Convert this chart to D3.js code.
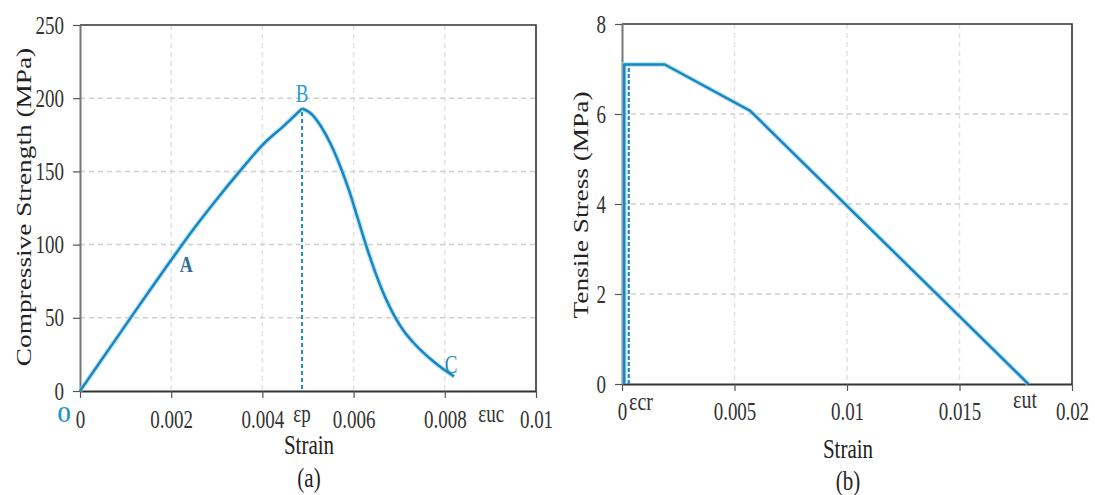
<!DOCTYPE html>
<html><head><meta charset="utf-8">
<script src="https://cdn.jsdelivr.net/npm/d3@7"></script>
<style>
body{margin:0;background:#fff;}
svg{display:block;}
text{font-family:"Liberation Serif","Times New Roman",serif;}
</style>
</head><body>
<svg id="c" width="1095" height="495"></svg>
<script>
// ---------- data ----------
const compStrain = [0, 0.0005, 0.001, 0.0015, 0.002, 0.0025, 0.003, 0.0035, 0.004, 0.0045, 0.00487,
                    0.0051, 0.0053, 0.0055, 0.0057, 0.0059, 0.0061, 0.0063, 0.0065, 0.0067, 0.0069,
                    0.0071, 0.0073, 0.0075, 0.0077, 0.0079, 0.0082];
const compStress = [0, 22.5, 45, 67.5, 89.5, 111, 131, 150, 168, 182, 193,
                    188.5, 180, 168.5, 154, 137, 117, 97, 79, 63.5, 51,
                    41, 33.5, 27, 21.5, 16.5, 10];
const compTicksX = [0, 0.002, 0.004, 0.006, 0.008, 0.01];
const compTickLabelsX = ["0", "0.002", "0.004", "0.006", "0.008", "0.01"];
const compTicksY = [0, 50, 100, 150, 200, 250];

const tensStrain = [0.0001, 0.0001, 0.0019, 0.0057, 0.01806];
const tensStress = [0, 7.1, 7.1, 6.07, 0];
const tensTicksX = [0, 0.005, 0.01, 0.015, 0.02];
const tensTickLabelsX = ["0", "0.005", "0.01", "0.015", "0.02"];
const tensTicksY = [0, 2, 4, 6, 8];

const epsP = 0.00487;   // strain at peak (dashed line, panel a)
const epsCr = 0.0003;   // cracking strain (dashed line, panel b)

// ---------- drawing ----------
const svg = d3.select("#c");
const SY = 1.3; // vertical text stretch of the original picture
const lineColor = "#1a86bf";

function txt(g, s, x, y, size, opts = {}) {
  const t = g.append("text")
    .attr("transform", `translate(${x},${y}) scale(1,${SY})` + (opts.rotate ? " rotate(-90)" : ""))
    .attr("text-anchor", opts.anchor || "middle")
    .attr("font-size", size)
    .attr("fill", opts.fill || "#222")
    .attr("font-weight", opts.bold ? "bold" : "normal")
    .text(s);
  if (opts.dy) t.attr("dy", opts.dy);
  return t;
}

function panel(cfg) {
  const g = svg.append("g");
  const x = d3.scaleLinear().domain(cfg.xDomain).range([cfg.left, cfg.right]);
  const y = d3.scaleLinear().domain(cfg.yDomain).range([cfg.bottom, cfg.top]);

  // grid
  g.append("g").selectAll("line").data(cfg.ticksX.slice(1, -1)).join("line")
    .attr("x1", d => x(d)).attr("x2", d => x(d)).attr("y1", cfg.top).attr("y2", cfg.bottom)
    .attr("stroke", "#e2e2e2").attr("stroke-width", 1.5).attr("stroke-dasharray", "5,4");
  g.append("g").selectAll("line").data(cfg.ticksY.slice(1, -1)).join("line")
    .attr("y1", d => y(d)).attr("y2", d => y(d)).attr("x1", cfg.left).attr("x2", cfg.right)
    .attr("stroke", "#cfcfcf").attr("stroke-width", 1.5).attr("stroke-dasharray", "5,4");

  // frame (top, right)
  g.append("path")
    .attr("d", `M${cfg.left},${cfg.top}H${cfg.right}V${cfg.bottom}`)
    .attr("fill", "none").attr("stroke", "#333").attr("stroke-width", 1.6);

  // axes
  const xa = g.append("g").attr("transform", `translate(0,${cfg.bottom})`)
    .call(d3.axisBottom(x).tickValues(cfg.ticksX).tickFormat((d, i) => cfg.labelsX[i])
      .tickSizeInner(7).tickSizeOuter(0));
  xa.select(".domain").attr("stroke", "#333").attr("stroke-width", 2);
  xa.selectAll(".tick line").attr("stroke", "#555").attr("stroke-width", 1.2);
  xa.selectAll(".tick text").attr("y", null).attr("dy", null)
    .attr("transform", `translate(0,${cfg.xLabelOff}) scale(1,${SY})`)
    .attr("font-size", 19).attr("fill", "#333")
    .attr("font-family", '"Liberation Serif","Times New Roman",serif');

  const ya = g.append("g").attr("transform", `translate(${cfg.left},0)`)
    .call(d3.axisLeft(y).tickValues(cfg.ticksY).tickSizeInner(7).tickSizeOuter(0));
  ya.select(".domain").attr("stroke", "#777").attr("stroke-width", 2);
  ya.selectAll(".tick line").attr("stroke", "#555").attr("stroke-width", 1.2);
  ya.selectAll(".tick text").attr("x", null).attr("dy", null)
    .attr("transform", `translate(-16,8) scale(1,${SY})`)
    .attr("text-anchor", "end")
    .attr("font-size", 19).attr("fill", "#333")
    .attr("font-family", '"Liberation Serif","Times New Roman",serif');

  // titles
  txt(g, "Strain", (cfg.left + cfg.right) / 2 + cfg.titleDx, cfg.titleY, 21);
  txt(g, cfg.sub, (cfg.left + cfg.right) / 2 + cfg.titleDx, cfg.subY, 21);
  txt(g, cfg.yTitle, cfg.yTitleX, cfg.yTitleY, 21, { rotate: true, dy: "0.35em" });

  return { g, x, y };
}

// ---- panel (a) ----
const A = panel({
  left: 80, right: 536, top: 25, bottom: 391,
  xDomain: [0, 0.01], yDomain: [0, 250],
  ticksX: compTicksX, labelsX: compTickLabelsX, ticksY: compTicksY,
  xLabelOff: 37, titleDx: 1, titleY: 454, sub: "(a)", subY: 487,
  yTitle: "Compressive Strength (MPa)", yTitleX: 24, yTitleY: 207
});
{
  const { g, x, y } = A;
  const pts = compStrain.map((s, i) => [s, compStress[i]]);
  const pk = d3.maxIndex(compStress);
  const line = d3.line().x(d => x(d[0])).y(d => y(d[1])).curve(d3.curveMonotoneX);
  const parts = [pts.slice(0, pk + 1), pts.slice(pk)];
  // dashed peak line
  g.append("line").attr("x1", x(epsP)).attr("x2", x(epsP)).attr("y1", y(0) - 2).attr("y2", y(compStress[pk]))
    .attr("stroke", "#2a86c0").attr("stroke-width", 2).attr("stroke-dasharray", "4,3");
  parts.forEach(p => {
    g.append("path").attr("d", line(p)).attr("fill", "none")
      .attr("stroke", "#8fd4f2").attr("stroke-width", 4.8).attr("stroke-opacity", 0.6);
    g.append("path").attr("d", line(p)).attr("fill", "none")
      .attr("stroke", lineColor).attr("stroke-width", 2.5).attr("stroke-linejoin", "round");
  });
  txt(g, "A", x(0.00233), y(81.3), 18, { bold: true, fill: "#2c6d9c" });
  txt(g, "B", x(epsP), y(compStress[pk]) - 6, 19, { fill: "#2a9bd4" });
  txt(g, "C", x(0.00814), y(12.3), 19, { fill: "#2f86b8" });
  txt(g, "O", x(0) - 16, 422, 17, { bold: true, fill: "#1f93cf" });
  txt(g, "εp", x(epsP), 422, 19, { fill: "#333" });
  txt(g, "εuc", x(0.00902), 422, 19, { fill: "#333" });
}

// ---- panel (b) ----
const B = panel({
  left: 622, right: 1072, top: 24, bottom: 384,
  xDomain: [0, 0.02], yDomain: [0, 8],
  ticksX: tensTicksX, labelsX: tensTickLabelsX, ticksY: tensTicksY,
  xLabelOff: 36, titleDx: 1, titleY: 458, sub: "(b)", subY: 490,
  yTitle: "Tensile Stress (MPa)", yTitleX: 581, yTitleY: 205
});
{
  const { g, x, y } = B;
  const pts = tensStrain.map((s, i) => [s, tensStress[i]]);
  const line = d3.line().x(d => x(d[0])).y(d => y(d[1]));
  g.append("line").attr("x1", x(epsCr)).attr("x2", x(epsCr)).attr("y1", y(0)).attr("y2", y(d3.max(tensStress)))
    .attr("stroke", "#2a86c0").attr("stroke-width", 2.2).attr("stroke-dasharray", "4,2");
  g.append("path").attr("d", line(pts)).attr("fill", "none")
    .attr("stroke", "#8fd4f2").attr("stroke-width", 4.8).attr("stroke-opacity", 0.6);
  g.append("path").attr("d", line(pts)).attr("fill", "none")
    .attr("stroke", lineColor).attr("stroke-width", 2.5).attr("stroke-linejoin", "round");
  txt(g, "εcr", 641, 410, 20, { fill: "#333" });
  txt(g, "εut", 1025, 408, 20, { fill: "#333" });
}
</script>
</body></html>
